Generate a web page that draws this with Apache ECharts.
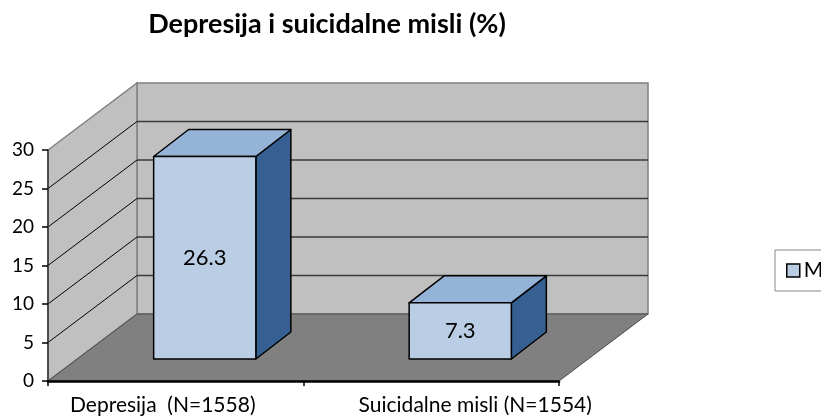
<!DOCTYPE html>
<html>
<head>
<meta charset="utf-8">
<script src="https://cdn.jsdelivr.net/npm/echarts@6/dist/echarts.min.js"></script>
<style>
  html, body { margin: 0; padding: 0; background: #fff; }
  #chart { width: 821px; height: 419px; }
</style>
</head>
<body>
<div id="chart"></div>
<script>
var myChart = echarts.init(document.getElementById('chart'));

var categories = ['Depresija  (N=1558)', 'Suicidalne misli (N=1554)'];
var values = [26.3, 7.3];
var yTicks = [0, 5, 10, 15, 20, 25, 30];
var seriesName = 'Mladi';

// 3D look: depth of the floor / wall, and where the boxes sit in it
var DX = 89, DY = -67;
var FX = 29, FY = -22;     // front face of a box
var BX = 35, BY = -27;     // box depth
var font = 'Lato';

function renderWalls(params, api) {
    var cs = params.coordSys;
    var x0 = cs.x, x1 = cs.x + cs.width;
    var yBot = api.coord([0, yTicks[0]])[1];
    var yTop = api.coord([0, yTicks[yTicks.length - 1]])[1];
    var children = [];
    children.push({
        type: 'polygon',
        shape: {points: [[x0 + DX, yTop + DY], [x1 + DX, yTop + DY], [x1 + DX, yBot + DY], [x0 + DX, yBot + DY]]},
        style: {fill: '#c0c0c0', stroke: '#808080', lineWidth: 1.5}
    });
    children.push({
        type: 'polygon',
        shape: {points: [[x0, yBot], [x0, yTop], [x0 + DX, yTop + DY], [x0 + DX, yBot + DY]]},
        style: {fill: '#c0c0c0', stroke: '#808080', lineWidth: 1.5}
    });
    children.push({
        type: 'polygon',
        shape: {points: [[x0, yBot], [x1, yBot], [x1 + DX, yBot + DY], [x0 + DX, yBot + DY]]},
        style: {fill: '#808080', stroke: '#4a4a4a', lineWidth: 1}
    });
    for (var i = 1; i < yTicks.length - 1; i++) {
        var y = api.coord([0, yTicks[i]])[1];
        children.push({
            type: 'line',
            shape: {x1: x0, y1: y, x2: x0 + DX, y2: y + DY},
            style: {stroke: '#000', lineWidth: 1}
        });
        children.push({
            type: 'line',
            shape: {x1: x0 + DX, y1: y + DY, x2: x1 + DX, y2: y + DY},
            style: {stroke: '#3a3a3a', lineWidth: 1.5}
        });
    }
    return {type: 'group', children: children};
}

function renderBox(params, api) {
    var base = api.coord([api.value(0), 0]);
    var top = api.coord([api.value(0), api.value(1)]);
    var bw = api.size([1, 0])[0] * 0.4;
    var L = base[0] - bw / 2 + FX, R = L + bw;
    var T = top[1] + FY, B = base[1] + FY;
    var edge = {stroke: '#000', lineWidth: 1.5, lineJoin: 'round'};
    return {
        type: 'group',
        children: [
            {type: 'polygon', shape: {points: [[R, T], [R + BX, T + BY], [R + BX, B + BY], [R, B]]},
                style: Object.assign({fill: '#366092'}, edge)},
            {type: 'polygon', shape: {points: [[L, T], [R, T], [R + BX, T + BY], [L + BX, T + BY]]},
                style: Object.assign({fill: '#95b3d7'}, edge)},
            {type: 'rect', shape: {x: L, y: T, width: bw, height: B - T},
                style: Object.assign({fill: '#b9cde5'}, edge)},
            {type: 'text', x: (L + R) / 2, y: (T + B) / 2,
                style: {text: String(api.value(1)), fill: '#000', font: '22px ' + font,
                    align: 'center', verticalAlign: 'middle'}}
        ]
    };
}

myChart.setOption({
    backgroundColor: '#fff',
    animation: false,
    title: {
        text: 'Depresija i suicidalne misli (%)',
        left: 322,
        top: 6,
        textAlign: 'center',
        textStyle: {fontFamily: font, fontSize: 27, fontWeight: 'bold', color: '#000'}
    },
    legend: {
        data: [seriesName],
        left: 775,
        top: 250,
        orient: 'vertical',
        padding: [10, 40, 10, 11],
        borderColor: '#888',
        borderWidth: 1,
        icon: 'rect',
        itemWidth: 13,
        itemHeight: 13,
        itemGap: 5,
        itemStyle: {color: '#b9cde5', borderColor: '#000', borderWidth: 1.5},
        textStyle: {fontFamily: font, fontSize: 21, color: '#000', padding: [0, 0, 0, -1]}
    },
    grid: {left: 48, right: 262, top: 150, bottom: 38},
    xAxis: {
        type: 'category',
        data: [
            {value: categories[0], textStyle: {padding: [0, 26, 0, 0]}},
            {value: categories[1], textStyle: {padding: [0, 0, 0, 88]}}
        ],
        z: 3,
        axisLine: {lineStyle: {color: '#000', width: 2.5}},
        axisTick: {show: true, length: 5, interval: 0, lineStyle: {color: '#000', width: 1.5}},
        axisLabel: {interval: 0, margin: 14, color: '#000', fontFamily: font, fontSize: 21}
    },
    yAxis: {
        type: 'value',
        min: 0,
        max: 30,
        interval: 5,
        z: 3,
        splitLine: {show: false},
        axisLine: {show: true, lineStyle: {color: '#333', width: 1.5}},
        axisTick: {show: true, length: 6, lineStyle: {color: '#000', width: 1.5}},
        axisLabel: {margin: 14, color: '#000', fontFamily: font, fontSize: 19}
    },
    series: [
        {
            name: 'walls',
            type: 'custom',
            z: 1,
            silent: true,
            renderItem: renderWalls,
            data: [[0, 0]]
        },
        {
            name: seriesName,
            type: 'custom',
            z: 4,
            itemStyle: {color: '#b9cde5', borderColor: '#000', borderWidth: 1.5},
            renderItem: renderBox,
            encode: {x: 0, y: 1},
            data: values.map(function (v, i) { return [i, v]; })
        }
    ]
});
</script>
</body>
</html>
